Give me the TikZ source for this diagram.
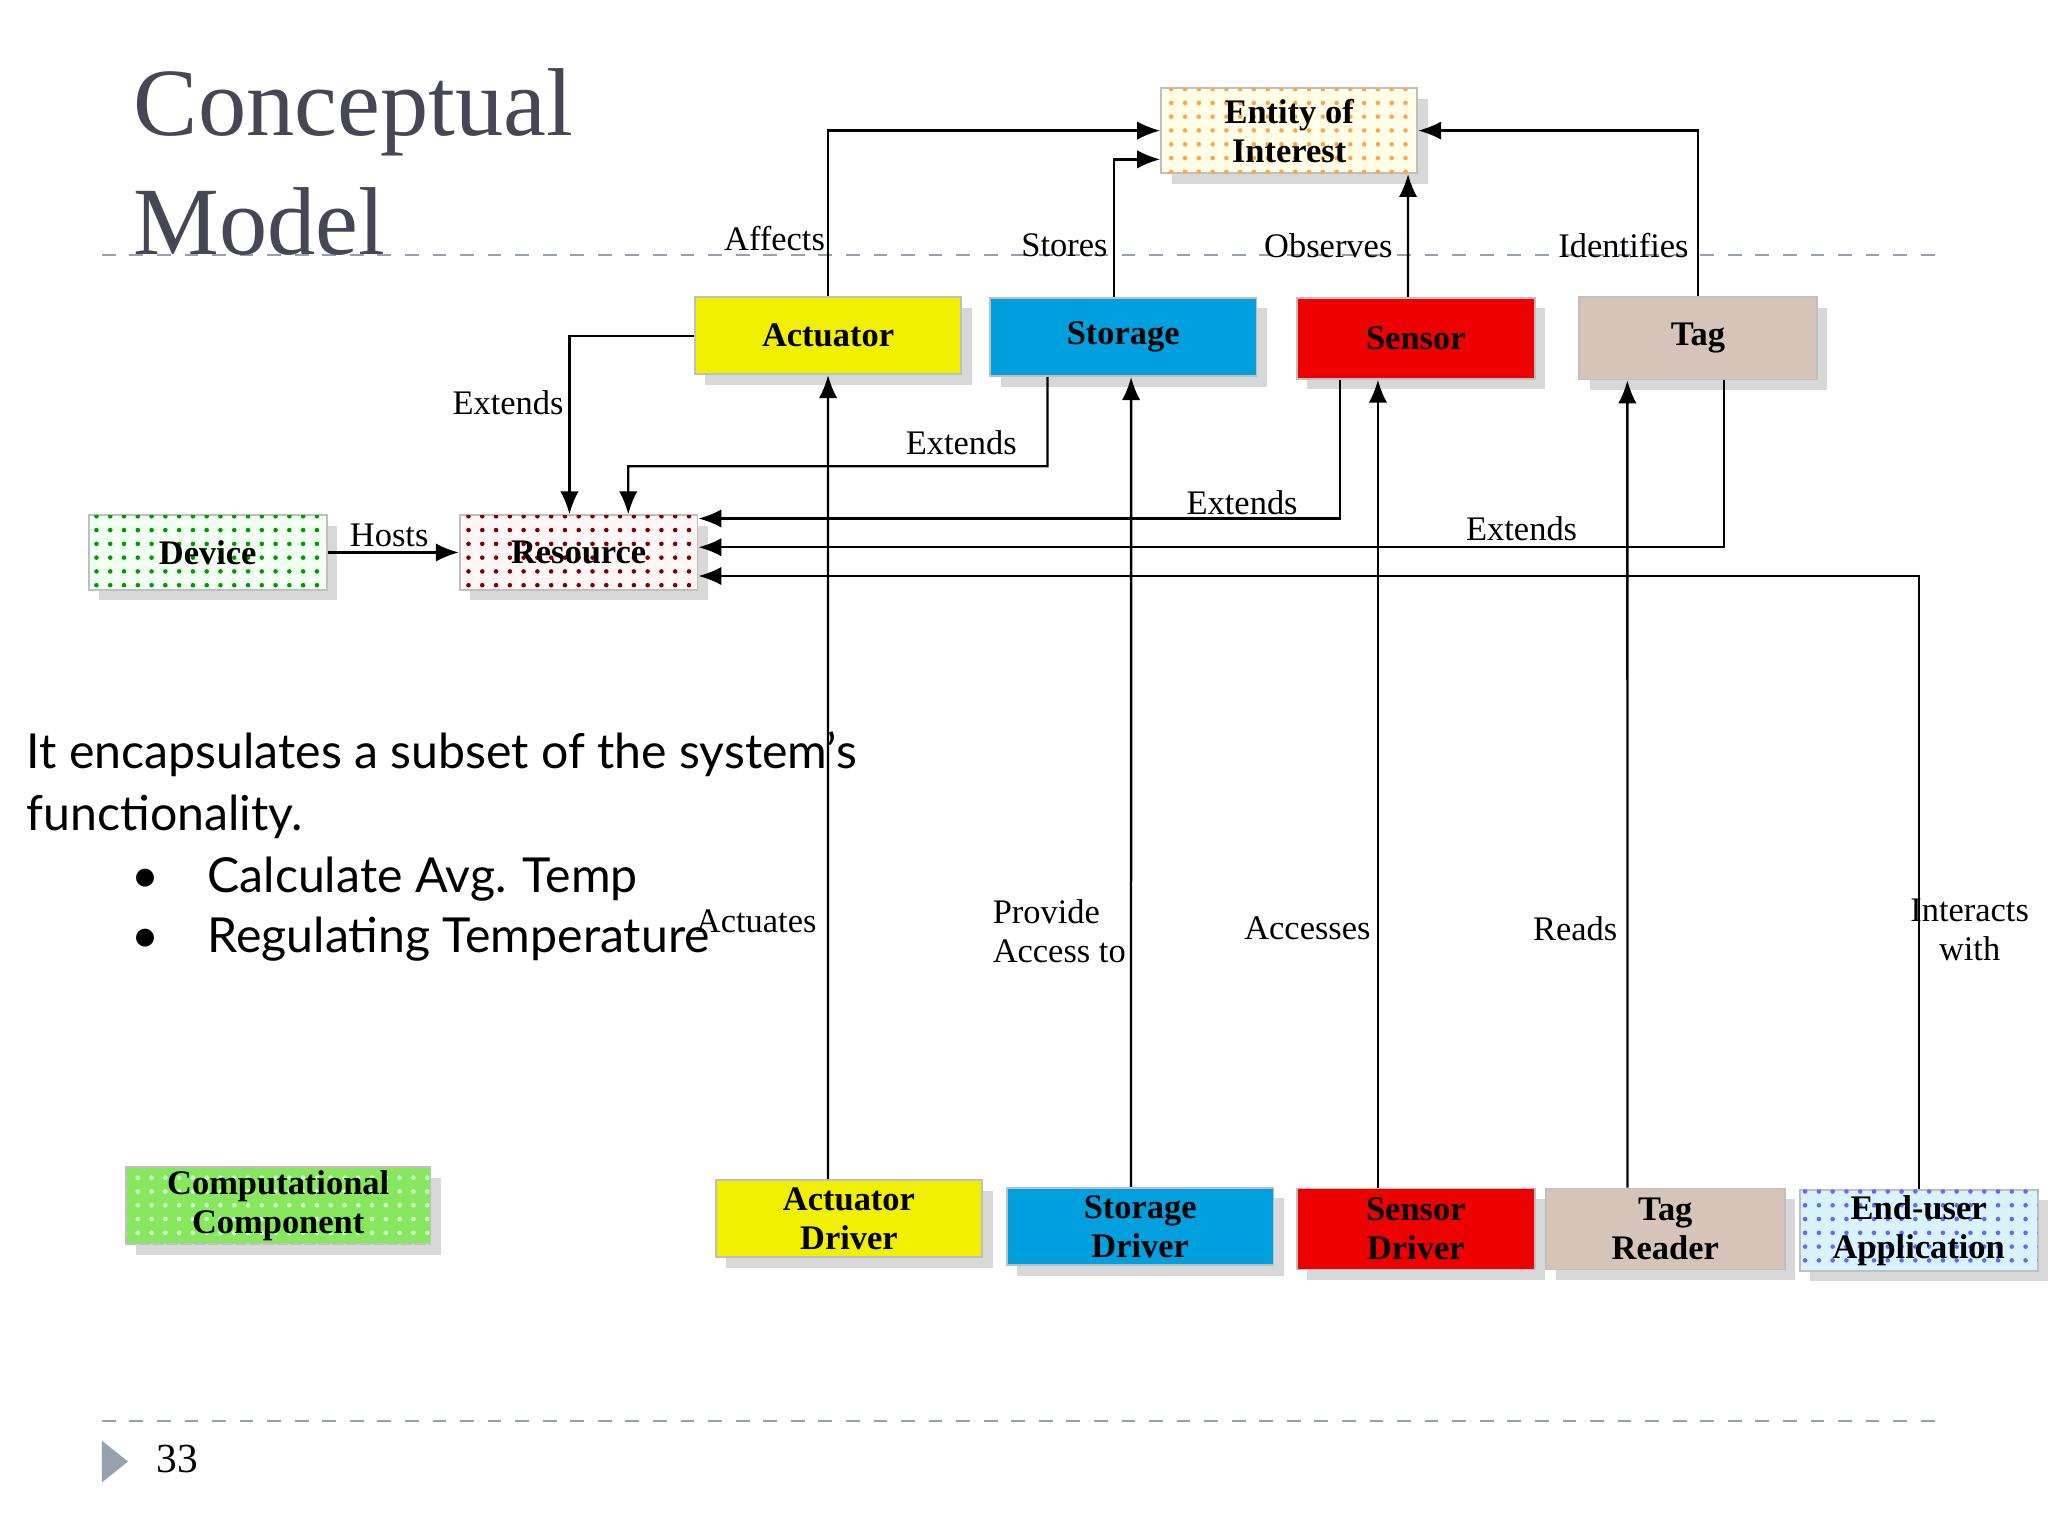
\documentclass[tikz,border=0pt]{standalone}
\usepackage{fontspec}
\setmainfont{Liberation Serif}
\newfontfamily\bodyfont{Lato}
\usetikzlibrary{arrows.meta,patterns,shadows}
\definecolor{ylw}{RGB}{240,240,0}
\definecolor{cyn}{RGB}{0,160,222}
\definecolor{rd}{RGB}{238,0,0}
\definecolor{tan}{RGB}{214,196,186}
\definecolor{grn}{RGB}{135,232,95}
\definecolor{ttl}{RGB}{70,70,85}
\definecolor{dsh}{RGB}{150,160,175}
\tikzset{
  box/.style={draw=black!25, inner sep=0pt, align=center, drop shadow={opacity=0.3},
    font=\bfseries\fontsize{7.5}{8.5}\selectfont},
  lbl/.style={font=\fontsize{7.5}{8.5}\selectfont, align=center},
  conn/.style={-{Latex[length=5pt,width=4pt]}, line width=0.5pt}
}
\begin{document}
\begin{tikzpicture}[x=0.01cm,y=-0.01cm]
      \useasboundingbox[fill=white] (0,0) rectangle (1568,1176);
      \draw[dsh, dashed] (78,195) -- (1490,195);
      \draw[dsh, dashed] (78,1088) -- (1490,1088);
      \fill[dsh] (78,1103) -- (98,1119) -- (78,1135) -- cycle;
      \node[lbl, font=\fontsize{9}{10}\selectfont] (pg) at (136,1117) {33};
      \node[anchor=north west, align=left, text=ttl, font=\fontsize{21}{26}\selectfont] (title) at (90,40) {Conceptual\\Model};

      \node[box, minimum width=1.96cm, minimum height=0.65cm, fill=yellow!10, postaction={pattern=dots, pattern color=orange!70}] (eoi) at (987,100) {Entity of\\Interest};
      \node[box, minimum width=2.04cm, minimum height=0.59cm, fill=ylw] (act) at (634,257) {Actuator};
      \node[box, minimum width=2.04cm, minimum height=0.60cm, fill=cyn] (sto) at (860,258) {Storage};
      \node[box, minimum width=1.82cm, minimum height=0.62cm, fill=rd] (sen) at (1084,259) {Sensor};
      \node[box, minimum width=1.82cm, minimum height=0.63cm, fill=tan] (tag) at (1300,259) {Tag};
      \node[box, minimum width=1.82cm, minimum height=0.57cm, fill=green!5, postaction={pattern=dots, pattern color=green!60!black}] (dev) at (159,423) {Device};
      \node[box, minimum width=1.82cm, minimum height=0.57cm, fill=red!3, postaction={pattern=dots, pattern color=red!50!black}] (res) at (443,423) {Resource};
      \node[box, minimum width=2.33cm, minimum height=0.59cm, fill=grn, postaction={pattern=dots, pattern color=white!80!green}] (cc) at (213,923) {Computational\\Component};
      \node[box, minimum width=2.04cm, minimum height=0.59cm, fill=ylw] (actd) at (650,933) {Actuator\\Driver};
      \node[box, minimum width=2.04cm, minimum height=0.59cm, fill=cyn] (stod) at (873,939) {Storage\\Driver};
      \node[box, minimum width=1.82cm, minimum height=0.62cm, fill=rd] (send) at (1084,941) {Sensor\\Driver};
      \node[box, minimum width=1.83cm, minimum height=0.62cm, fill=tan] (tagr) at (1275,941) {Tag\\Reader};
      \node[box, minimum width=1.82cm, minimum height=0.62cm, fill=cyan!15, postaction={pattern=dots, pattern color=blue!60}] (app) at (1469,942) {End-user\\Application};

      % relations to entity of interest
      \draw[conn] (act.north) |- (eoi.west);
      \draw[conn] ([xshift=-0.07cm]sto.north) |- ([yshift=-0.22cm]eoi.west);
      \draw[conn] ([xshift=-0.06cm]sen.north) -- ([xshift=0.91cm]eoi.south);
      \draw[conn] (tag.north) |- (eoi.east);
      \node[lbl] (l1) at (593,183) {Affects};
      \node[lbl] (l2) at (815,188) {Stores};
      \node[lbl] (l3) at (1017,188) {Observes};
      \node[lbl] (l4) at (1243,188) {Identifies};

      % extends
      \draw[conn] (act.west) -| ([xshift=-0.07cm]res.north);
      \draw[conn] ([xshift=-0.58cm]sto.south) |- (481,357) -- ([xshift=0.38cm]res.north);
      \draw[conn] ([xshift=-0.58cm]sen.south) |- ([yshift=0.26cm]res.east);
      \draw[conn] ([xshift=0.20cm]tag.south) |- ([yshift=0.04cm]res.east);
      \draw[conn] (app.north) |- ([yshift=-0.18cm]res.east);
      \draw[conn] (dev.east) -- (res.west);
      \node[lbl] (l5) at (389,308) {Extends};
      \node[lbl] (l6) at (736,339) {Extends};
      \node[lbl] (l7) at (951,385) {Extends};
      \node[lbl] (l8) at (1165,405) {Extends};
      \node[lbl] (l9) at (298,410) {Hosts};
      \node[lbl] (l10) at (1508,712) {Interacts\\with};

      % drivers
      \draw[conn] ([xshift=-0.16cm]actd.north) -- (act.south);
      \draw[conn] ([xshift=-0.07cm]stod.north) -- ([xshift=0.06cm]sto.south);
      \draw[conn] ([xshift=-0.29cm]send.north) -- ([xshift=-0.29cm]sen.south);
      \draw[conn] ([xshift=-0.29cm]tagr.north) -- ([xshift=-0.54cm]tag.south);
      \node[lbl] (l11) at (579,705) {Actuates};
      \node[lbl, align=left] (l12) at (811,713) {Provide\\Access to};
      \node[lbl] (l13) at (1001,711) {Accesses};
      \node[lbl] (l14) at (1206,711) {Reads};

      \node[anchor=west, align=left, font=\bodyfont\fontsize{10.5}{13.5}\selectfont] (txt) at (8,601) {It encapsulates a subset of the system’s\\functionality.};
      \node[anchor=west, font=\bodyfont\fontsize{10.5}{13}\selectfont] (b1) at (88,673) {\textbullet\hspace{0.37cm}Calculate Avg. Temp};
      \node[anchor=west, font=\bodyfont\fontsize{10.5}{13}\selectfont] (b2) at (88,719) {\textbullet\hspace{0.37cm}Regulating Temperature};
\end{tikzpicture}
\end{document}
